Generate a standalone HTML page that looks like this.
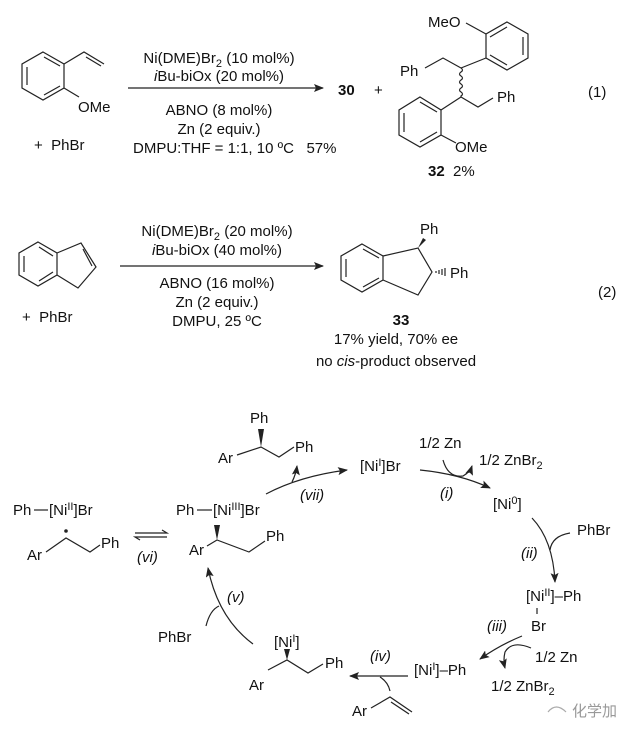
<!DOCTYPE html>
<html><head><meta charset="utf-8"><style>
html,body{margin:0;padding:0;background:#fff;}
svg{display:block;}
text{font-family:"Liberation Sans",Arial,sans-serif;font-size:15px;fill:#111;}
.i{font-style:italic;}
.b{font-weight:bold;}
.s{font-size:11px;}
line,path,polyline,polygon{stroke:#222;stroke-width:1.2;fill:none;}
.f{fill:#222;stroke:none;}
</style></head><body>
<svg width="629" height="731" viewBox="0 0 629 731" xmlns="http://www.w3.org/2000/svg">
<defs>
<marker id="ah" markerWidth="10" markerHeight="8" refX="9" refY="4" orient="auto" markerUnits="userSpaceOnUse">
<path d="M0,0 L10,4 L0,8 L2,4 Z" class="f"/>
</marker>
</defs>

<!-- Reaction 1 reactant -->
<polygon points="43,52 64,64 64,88 43,100 22,88 22,64"/>
<line x1="27" y1="67" x2="27" y2="85"/>
<line x1="44" y1="57" x2="60" y2="66"/>
<line x1="44" y1="95" x2="60" y2="86"/>
<polyline points="64,64 84,52 104,64"/>
<line x1="86" y1="57" x2="101" y2="66"/>
<line x1="64" y1="88" x2="79" y2="97"/>
<text x="78" y="112">OMe</text>
<text x="34" y="150">+&#160;&#160;PhBr</text>

<text x="219" y="63" text-anchor="middle">Ni(DME)Br<tspan class="s" dy="4">2</tspan><tspan dy="-4"> (10 mol%)</tspan></text>
<text x="219" y="81" text-anchor="middle"><tspan class="i">i</tspan>Bu-biOx (20 mol%)</text>
<line x1="128" y1="88" x2="323" y2="88" marker-end="url(#ah)"/>
<text x="219" y="115" text-anchor="middle">ABNO (8 mol%)</text>
<text x="219" y="134" text-anchor="middle">Zn (2 equiv.)</text>
<text x="133" y="153">DMPU:THF = 1:1, 10 ºC&#160;&#160;&#160;57%</text>
<text x="338" y="95" class="b">30</text>
<text x="374" y="95">+</text>

<!-- product 32 -->
<text x="428" y="27">MeO</text>
<line x1="466" y1="23" x2="486" y2="34"/>
<polygon points="507,22 528,34 528,58 507,70 486,58 486,34"/>
<line x1="523" y1="37" x2="523" y2="55"/>
<line x1="507" y1="27" x2="490" y2="37"/>
<line x1="507" y1="65" x2="490" y2="55"/>
<line x1="486" y1="58" x2="461" y2="68"/>
<polyline points="461,68 443,58 425,68"/>
<text x="400" y="76">Ph</text>
<path d="M461,68 q3,2 0,4 q-3,2 0,4 q3,2 0,4 q-3,2 0,4 q3,2 0,4 q-3,2 0,4 q3,2 0,4 l0,1"/>
<polyline points="461,97 478,107 493,98"/>
<text x="497" y="102">Ph</text>
<line x1="461" y1="97" x2="441" y2="110"/>
<polygon points="420,97 441,110 441,135 420,147 399,135 399,110"/>
<line x1="404" y1="113" x2="404" y2="132"/>
<line x1="420" y1="102" x2="437" y2="112"/>
<line x1="420" y1="142" x2="437" y2="132"/>
<line x1="441" y1="135" x2="456" y2="143"/>
<text x="455" y="152">OMe</text>
<text x="428" y="176"><tspan class="b">32</tspan>&#160;&#160;2%</text>
<text x="588" y="97">(1)</text>

<!-- Reaction 2 -->
<polygon points="38,242 57,253 57,275 38,286 19,275 19,253"/>
<line x1="24" y1="256" x2="24" y2="272"/>
<line x1="39" y1="247" x2="53" y2="256"/>
<line x1="39" y1="281" x2="53" y2="272"/>
<polyline points="57,253 81,243 96,267 78,288 57,275"/>
<line x1="83" y1="249" x2="92" y2="266"/>
<text x="22" y="322">+&#160;&#160;PhBr</text>

<text x="217" y="236" text-anchor="middle">Ni(DME)Br<tspan class="s" dy="4">2</tspan><tspan dy="-4"> (20 mol%)</tspan></text>
<text x="217" y="255" text-anchor="middle"><tspan class="i">i</tspan>Bu-biOx (40 mol%)</text>
<line x1="120" y1="266" x2="323" y2="266" marker-end="url(#ah)"/>
<text x="217" y="288" text-anchor="middle">ABNO (16 mol%)</text>
<text x="217" y="307" text-anchor="middle">Zn (2 equiv.)</text>
<text x="217" y="326" text-anchor="middle">DMPU, 25 ºC</text>

<polygon points="362,244 383,256 383,280 362,292 341,280 341,256"/>
<line x1="346" y1="259" x2="346" y2="277"/>
<line x1="363" y1="249" x2="379" y2="258"/>
<line x1="363" y1="287" x2="379" y2="278"/>
<polyline points="383,256 418,248 432,272 418,295 383,280"/>
<polygon points="418,248 423,238 426,240" class="f"/>
<text x="420" y="234">Ph</text>
<g stroke="#222" stroke-width="1">
<line x1="436" y1="271" x2="436" y2="273"/><line x1="439" y1="270" x2="439" y2="274"/><line x1="442" y1="269" x2="442" y2="275"/><line x1="445" y1="268" x2="445" y2="276"/>
</g>
<text x="450" y="278">Ph</text>
<text x="401" y="325" text-anchor="middle" class="b">33</text>
<text x="396" y="344" text-anchor="middle">17% yield, 70% ee</text>
<text x="396" y="366" text-anchor="middle">no <tspan class="i">cis</tspan>-product observed</text>
<text x="598" y="297">(2)</text>

<!-- Catalytic cycle -->
<text x="250" y="423">Ph</text>
<polygon points="261,447 258,429 264,429" class="f"/>
<text x="218" y="463">Ar</text>
<polyline points="237,455 261,447 279,457 294,447"/>
<text x="295" y="452">Ph</text>

<path d="M266,494 Q300,476 347,470" marker-end="url(#ah)"/>
<path d="M292,482 Q296,474 297,466" marker-end="url(#ah)"/>
<text x="300" y="500" class="i">(vii)</text>

<text x="360" y="471">[Ni<tspan class="s" dy="-5">I</tspan><tspan dy="5">]Br</tspan></text>
<text x="419" y="448">1/2 Zn</text>
<text x="479" y="465">1/2 ZnBr<tspan class="s" dy="4">2</tspan></text>
<path d="M420,470 Q460,474 490,488" marker-end="url(#ah)"/>
<path d="M443,460 Q448,478 463,476 Q470,472 472,466" marker-end="url(#ah)"/>
<text x="440" y="498" class="i">(i)</text>
<text x="493" y="509">[Ni<tspan class="s" dy="-5">0</tspan><tspan dy="5">]</tspan></text>

<path d="M532,518 Q553,540 555,582" marker-end="url(#ah)"/>
<path d="M570,533 Q552,536 550,550"/>
<text x="577" y="535">PhBr</text>
<text x="521" y="558" class="i">(ii)</text>

<text x="526" y="601">[Ni<tspan class="s" dy="-5">II</tspan><tspan dy="5">]–Ph</tspan></text>
<line x1="537" y1="608" x2="537" y2="614"/>
<text x="531" y="631">Br</text>
<text x="487" y="631" class="i">(iii)</text>
<path d="M522,636 Q500,645 480,659" marker-end="url(#ah)"/>
<path d="M531,648 Q512,640 505,652 Q503,660 505,668" marker-end="url(#ah)"/>
<text x="535" y="662">1/2 Zn</text>
<text x="491" y="691">1/2 ZnBr<tspan class="s" dy="4">2</tspan></text>

<text x="414" y="675">[Ni<tspan class="s" dy="-5">I</tspan><tspan dy="5">]–Ph</tspan></text>
<line x1="408" y1="676" x2="350" y2="676" marker-end="url(#ah)"/>
<path d="M390,691 Q388,682 380,677"/>
<text x="370" y="661" class="i">(iv)</text>
<text x="352" y="716">Ar</text>
<polyline points="371,708 390,697 412,712"/>
<line x1="391" y1="702" x2="409" y2="714"/>

<text x="274" y="647">[Ni<tspan class="s" dy="-5">I</tspan><tspan dy="5">]</tspan></text>
<polygon points="287,660 284,649 290,649" class="f"/>
<text x="249" y="690">Ar</text>
<polyline points="268,670 287,660 308,673 323,664"/>
<text x="325" y="668">Ph</text>

<path d="M253,644 Q218,618 208,568" marker-end="url(#ah)"/>
<path d="M206,626 Q210,610 219,606"/>
<text x="158" y="642">PhBr</text>
<text x="227" y="602" class="i">(v)</text>

<text x="176" y="515">Ph</text>
<line x1="197" y1="510" x2="212" y2="510"/>
<text x="213" y="515">[Ni<tspan class="s" dy="-5">III</tspan><tspan dy="5">]Br</tspan></text>
<polygon points="217,540 214,525 220,525" class="f"/>
<text x="189" y="555">Ar</text>
<polyline points="207,546 217,540 249,552 265,541"/>
<text x="266" y="541">Ph</text>

<text x="13" y="515">Ph</text>
<line x1="34" y1="510" x2="48" y2="510"/>
<text x="49" y="515">[Ni<tspan class="s" dy="-5">II</tspan><tspan dy="5">]Br</tspan></text>
<circle cx="66" cy="531" r="1.8" class="f"/>
<text x="27" y="560">Ar</text>
<polyline points="46,552 66,538 90,552 100,545"/>
<text x="101" y="548">Ph</text>
<path d="M135,533 L167,533 L162,530"/>
<path d="M167,537 L135,537 L140,540"/>
<text x="137" y="562" class="i">(vi)</text>

<text x="572" y="716" style="fill:#999;font-family:'Noto Sans CJK SC',sans-serif;font-size:15px;">化学加</text>
<path d="M548,712 q8,-10 18,0" style="stroke:#aaa"/>
</svg>
</body></html>
